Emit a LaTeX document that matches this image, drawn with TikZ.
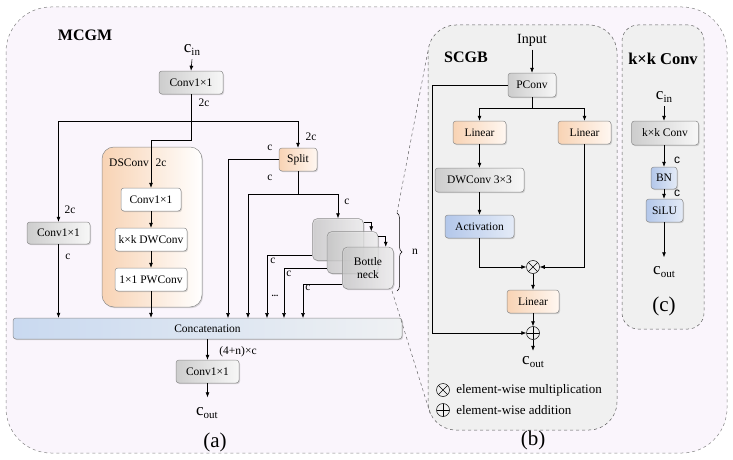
\documentclass[tikz,border=0pt]{standalone}
\usepackage{fontspec}
\setmainfont{Liberation Serif}
\newfontfamily\labelsans{Liberation Sans}
\usetikzlibrary{positioning,arrows.meta,shadows,decorations.pathreplacing}
\definecolor{framefill}{HTML}{FAF5FC}
\definecolor{panelfill}{HTML}{F0F0F0}
\definecolor{boxedge}{HTML}{8C8C8C}
\definecolor{grayL}{HTML}{CDCDCD}
\definecolor{grayR}{HTML}{F7F7F7}
\definecolor{peachL}{HTML}{F8D3B4}
\definecolor{peachR}{HTML}{FFF7F1}
\definecolor{blueL}{HTML}{B3C7EA}
\definecolor{blueR}{HTML}{E4EBF7}
\definecolor{catL}{HTML}{C9D9F0}
\definecolor{catR}{HTML}{EFF1F3}
\newcommand{\sigarrowstyle}{-{Latex[length=5pt,width=4pt]}}
\newcommand{\chan}[1]{{\fontsize{17}{18}\selectfont c}\raisebox{-3.5pt}{\fontsize{11}{12}\selectfont #1}}

\begin{document}
\begin{tikzpicture}[
    x=1pt, y=-1pt,
    sig/.style={\sigarrowstyle, line width=0.6pt},
    sigline/.style={line width=0.6pt},
    blk/.style={draw=boxedge, rounded corners=3pt, line width=0.5pt, inner sep=0pt,
      font=\fontsize{11.5}{13}\selectfont,
      drop shadow={shadow xshift=1pt, shadow yshift=-1.2pt, opacity=0.3}},
    grayblk/.style={blk, left color=grayL, right color=grayR},
    peachblk/.style={blk, left color=peachL, right color=peachR},
    blueblk/.style={blk, left color=blueL, right color=blueR},
    whiteblk/.style={blk, fill=white},
    neckblk/.style={blk, rounded corners=5pt, left color=grayL, right color=grayR, fill opacity=0.72,
      text opacity=1, minimum width=51pt, minimum height=42pt, align=center},
    panel/.style={draw=black!65, dashed, line width=0.5pt, fill=panelfill, rounded corners=28pt, inner sep=0pt},
    title/.style={font=\fontsize{16}{18}\selectfont\bfseries},
    tag/.style={font=\fontsize{21}{23}\selectfont},
    lbl/.style={font=\fontsize{11.5}{13}\selectfont, inner sep=1pt},
    clbl/.style={font=\labelsans\fontsize{12}{13}\selectfont, inner sep=1pt},
    opnode/.style={circle, draw, line width=0.5pt, minimum size=13pt, inner sep=0pt},
    mulop/.style={opnode, path picture={
      \draw[line width=0.5pt] (path picture bounding box.north west) -- (path picture bounding box.south east)
        (path picture bounding box.north east) -- (path picture bounding box.south west);}},
    addop/.style={opnode, path picture={
      \draw[line width=0.5pt] (path picture bounding box.north) -- (path picture bounding box.south)
        (path picture bounding box.west) -- (path picture bounding box.east);}},
    zoomline/.style={draw=black!60, dashed, line width=0.5pt}
]
  \useasboundingbox (0,0) rectangle (733,460);

  % outer frame and panels
  \draw[draw=black!50, dashed, line width=0.5pt, fill=framefill, rounded corners=45pt] (6,7) rectangle (727,453);
  \node[panel, minimum width=189pt, minimum height=405pt] (scgb) at (522.5,227.5) {};
  \node[panel, minimum width=82pt, minimum height=304pt, rounded corners=16pt] (kpanel) at (663,177) {};

  \node[title] at (85,35) {MCGM};
  \node[title] at (466,57) {SCGB};
  \node[title, font=\fontsize{16.5}{18}\selectfont\bfseries] at (663,59) {k×k Conv};

  % ---- (a) MCGM ----
  \node (cin) at (192,50) {\chan{in}};
  \node[grayblk, minimum width=64pt, minimum height=23pt] (conv0) at (191,82.5) {Conv1×1};
  \draw[sig] (cin.south) -- (conv0.north);

  \draw[panel, draw=boxedge, solid, left color=peachL, right color=white, rounded corners=12pt,
    drop shadow={shadow xshift=1pt, shadow yshift=-1.2pt, opacity=0.3}] (102,147) rectangle (202,307);
  \node[lbl, anchor=west] at (108,163) {DSConv};
  \node[lbl] at (161,163) {2c};

  \node[whiteblk, minimum width=60pt, minimum height=23pt] (dsc1) at (151,199.5) {Conv1×1};
  \node[whiteblk, minimum width=72pt, minimum height=23pt] (dsc2) at (151,239.5) {k×k DWConv};
  \node[whiteblk, minimum width=72pt, minimum height=23pt] (dsc3) at (151,279.5) {1×1 PWConv};
  \draw[sig] (dsc1.south) -- (dsc2.north);
  \draw[sig] (dsc2.south) -- (dsc3.north);

  \node[grayblk, minimum width=63pt, minimum height=22pt] (convL) at (58.5,233) {Conv1×1};
  \node[peachblk, minimum width=38pt, minimum height=23pt] (split) at (298,159.5) {Split};

  \node[blk, left color=catL, right color=catR, minimum width=389pt, minimum height=21pt] (concat) at (207.5,328.5) {Concatenation};

  \draw[sigline] (conv0.south) -- (191,121) coordinate (bus);
  \draw[sig] (bus) -- ++(0,19) -| (dsc1.north);
  \draw[sig] (bus) -| (convL.north);
  \draw[sig] (bus) -| (split.north);
  \node[lbl] at (204,103) {2c};
  \node[lbl] at (311,137) {2c};
  \node[lbl] at (70,210) {2c};
  \node[lbl] at (68,257) {c};
  \node[lbl] at (270,148) {c};
  \node[lbl] at (270,178) {c};

  \foreach \t/\x in {a/228,b/248,c/267,d/284,e/303} {
    \coordinate (tap-\t) at (\x,318);
  }
  \draw[sig] (convL.south) -- (convL |- concat.north);
  \draw[sig] (dsc3.south) -- (dsc3 |- concat.north);
  \draw[sig] (split.west) -| (tap-a);
  \draw[sigline] (split.south) -- (298,194) coordinate (fork);
  \draw[sig] (fork) -| (tap-b);

  % bottleneck stack
  \foreach \i/\x/\y/\txt in {1/338/239.5/{},2/352.5/252.5/{},3/368/268/{Bottle\\neck}} {
    \node[neckblk] (bneck-\i) at (\x,\y) {\txt};
  }
  \draw[sig] (fork) -| (bneck-1.north);
  \node[lbl] at (347,202) {c};
  \draw[sig] ([yshift=-4pt]bneck-1.north east) -| ([xshift=-7pt]bneck-2.north east);
  \draw[sig] ([yshift=-5pt]bneck-2.north east) -| ([xshift=-8pt]bneck-3.north east);
  \foreach \i/\t in {1/c,2/d,3/e} {
    \draw[sig] ([yshift=5pt]bneck-\i.south west) -| (tap-\t);
  }
  \node[lbl] at (273,261) {c};
  \node[lbl] at (289,274) {c};
  \node[lbl] at (308,288) {c};
  \node[lbl, font=\fontsize{9}{10}\selectfont\bfseries] at (275,296) {...};

  \coordinate (brT) at (397,213);
  \coordinate (brB) at (397,291);
  \draw[line width=0.5pt, decorate, decoration={brace, amplitude=5pt}] (brT) -- (brB);
  \node[lbl] at (415,252) {n};
  \draw[zoomline] (brT) -- ([yshift=-27pt]scgb.north west);
  \draw[zoomline] ([xshift=-5pt]brB) -- ([xshift=3pt, yshift=15pt]scgb.south west);

  \node[grayblk, minimum width=63pt, minimum height=23pt] (convB) at (207.5,371.5) {Conv1×1};
  \draw[sig] (concat.south -| convB) -- (convB.north);
  \node[lbl] at (238,352) {(4+n)×c};
  \node (cout) at (207,413) {\chan{out}};
  \draw[sig] (convB.south) -- ++(0,14);
  \node[tag] at (215,442) {(a)};

  % ---- (b) SCGB ----
  \node[font=\fontsize{14}{16}\selectfont] (input) at (532,40) {Input};
  \node[grayblk, minimum width=48pt, minimum height=24pt] (pconv) at (532,85) {PConv};
  \draw[sig] (input.south) -- (pconv.north);
  \node[peachblk, minimum width=53pt, minimum height=23pt] (lin1) at (479.5,132.5) {Linear};
  \node[peachblk, minimum width=53pt, minimum height=23pt] (lin2) at (584.5,132.5) {Linear};
  \node[grayblk, minimum width=89pt, minimum height=24pt] (dwc) at (479.5,180) {DWConv 3×3};
  \node[blueblk, minimum width=69pt, minimum height=23pt] (act) at (479.5,226.5) {Activation};
  \node[mulop] (mult) at (533,267) {};
  \node[peachblk, minimum width=52pt, minimum height=23pt] (lin3) at (533,301.5) {Linear};
  \node[addop] (plus) at (533,333) {};

  \draw[sigline] (pconv.south) -- ++(0,11) coordinate (pfork);
  \draw[sig] (pfork) -| (lin1.north);
  \draw[sig] (pfork) -| (lin2.north);
  \draw[sig] (lin1.south) -- (dwc.north);
  \draw[sig] (dwc.south) -- (act.north);
  \draw[sig] (act.south) |- (mult.west);
  \draw[sig] (lin2.south) |- (mult.east);
  \draw[sig] (mult.south) -- (lin3.north);
  \draw[sig] (lin3.south) -- (plus.north);
  \draw[sig] (pconv.west) -- ++(-75,0) |- (plus.west);
  \node (cout2) at (533,362) {\chan{out}};
  \draw[sig] (plus.south) -- ++(0,11);

  \node[mulop] (legmul) at (443,390) {};
  \node[addop] (legadd) at (443,410) {};
  \node[anchor=west, font=\fontsize{13}{15}\selectfont, right=3pt of legmul] {element-wise multiplication};
  \node[anchor=west, font=\fontsize{13}{15}\selectfont, right=3pt of legadd] {element-wise addition};
  \node[tag] at (533,440) {(b)};

  % ---- (c) k x k Conv ----
  \node (cin2) at (664,97) {\chan{in}};
  \node[grayblk, minimum width=67pt, minimum height=24pt] (kconv) at (665,133) {k×k Conv};
  \node[blueblk, minimum width=26pt, minimum height=22pt] (bn) at (664,178) {BN};
  \node[blueblk, minimum width=37pt, minimum height=23pt] (silu) at (664.5,210.5) {SiLU};
  \draw[sig] (cin2.south) -- (cin2 |- kconv.north);
  \draw[sig] (kconv.south -| bn) -- (bn.north);
  \draw[sig] (bn.south) -- (bn |- silu.north);
  \node[clbl] at (677,160) {c};
  \node[clbl] at (677,193) {c};
  \draw[sig] (silu.south -| bn) -- ++(0,35);
  \node (cout3) at (664,272) {\chan{out}};
  \node[tag] at (664,306) {(c)};
\end{tikzpicture}
\end{document}
